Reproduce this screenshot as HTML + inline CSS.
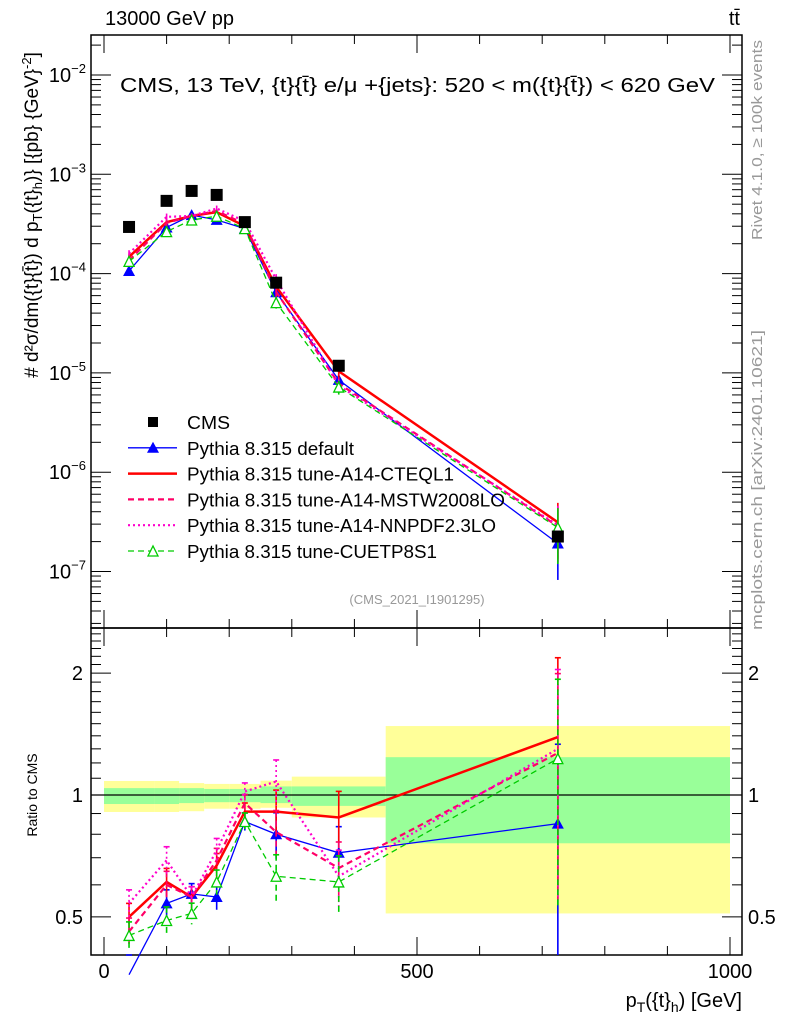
<!DOCTYPE html>
<html><head><meta charset="utf-8"><style>
body{margin:0;background:#fff;}
svg{display:block;font-family:"Liberation Sans",sans-serif;}
</style></head><body>
<svg id="c" width="786" height="1024" viewBox="0 0 786 1024">
<text x="105" y="25" font-size="20">13000 GeV pp</text>
<text x="740" y="25" font-size="20" text-anchor="end">tt̄</text>
<text x="120" y="92" font-size="20" textLength="595" lengthAdjust="spacingAndGlyphs">CMS, 13 TeV, {t}{t̄} e/μ +{jets}: 520 &lt; m({t}{t̄}) &lt; 620 GeV</text>
<text transform="translate(762,140) rotate(-90)" font-size="15" fill="#999" text-anchor="middle" textLength="200" lengthAdjust="spacingAndGlyphs">Rivet 4.1.0, ≥ 100k events</text>
<text transform="translate(762,480) rotate(-90)" font-size="15" fill="#999" text-anchor="middle" textLength="300" lengthAdjust="spacingAndGlyphs">mcplots.cern.ch [arXiv:2401.10621]</text>
<text x="417" y="604" font-size="13" fill="#999" text-anchor="middle">(CMS_2021_I1901295)</text>
<text transform="translate(38,215) rotate(-90)" font-size="19" text-anchor="middle"># d²σ/dm({t}{t̄}) d p<tspan font-size="13" dy="4">T</tspan><tspan dy="-4">({t}</tspan><tspan font-size="13" dy="4">h</tspan><tspan dy="-4">)} [{pb} {GeV}</tspan><tspan font-size="13" dy="-7">-2</tspan><tspan dy="7">]</tspan></text>
<text transform="translate(37,795) rotate(-90)" font-size="14" text-anchor="middle">Ratio to CMS</text>
<text x="742" y="1007" font-size="20" text-anchor="end">p<tspan font-size="14" dy="5">T</tspan><tspan dy="-5">({t}</tspan><tspan font-size="14" dy="5">h</tspan><tspan dy="-5">) [GeV]</tspan></text>
<g id="bands"></g><g id="grid"></g><g id="series"></g>
<g id="legend"></g>
</svg>
<script>
const binEdges=[0,80,120,160,200,250,300,450,1000];
const binCenters=[40,100,140,180,225,275,375,725];
const cmsValues=[2.95e-4,5.4e-4,6.8e-4,6.2e-4,3.3e-4,8.1e-5,1.18e-5,2.25e-7];
const yellowUp=[1.083,1.083,1.07,1.065,1.065,1.085,1.11,1.48];
const yellowDn=[0.908,0.908,0.912,0.925,0.925,0.93,0.88,0.51];
const greenUp=[1.04,1.04,1.04,1.035,1.035,1.05,1.05,1.24];
const greenDn=[0.95,0.95,0.955,0.96,0.96,0.955,0.94,0.76];
const ratioDefault=[0.36,0.54,0.57,0.56,0.86,0.80,0.72,0.85];
const ratioCTEQ=[0.50,0.61,0.56,0.67,0.91,0.91,0.88,1.39];
const ratioMSTW=[0.46,0.60,0.56,0.69,0.955,0.81,0.66,1.27];
const ratioNNPDF=[0.54,0.69,0.56,0.73,1.02,1.08,0.63,1.30];
const ratioCUETP=[0.45,0.49,0.51,0.61,0.86,0.63,0.61,1.23];
const relErr=[0.08,0.08,0.06,0.07,0.05,0.13,0.16,0.57];
const yTickExp=[-7,-6,-5,-4,-3,-2];
const rTicks=[0.5,1,2];
const xTicks=[0,500,1000];

const NS="http://www.w3.org/2000/svg";
const L=91,R=742,T=35,MB=628,RB=955;
const X=v=>104+v*0.626;
const Y=v=>75-(Math.log10(v)+2)*99.3;
const RY=v=>795-Math.log10(v)*405;
function mk(tag,attrs,parent){const e=document.createElementNS(NS,tag);for(const k in attrs)e.setAttribute(k,attrs[k]);document.getElementById(parent).appendChild(e);return e;}
function clampR(y){return Math.max(628,Math.min(RB,y));}

for(let i=0;i<binCenters.length;i++){
  const x0=X(binEdges[i]),x1=X(binEdges[i+1]);
  const yb=mk('rect',{x:x0,y:RY(yellowUp[i]),width:x1-x0,height:RY(yellowDn[i])-RY(yellowUp[i]),fill:'#ffff99'},'bands');
  
  
  const gb=mk('rect',{x:x0,y:RY(greenUp[i]),width:x1-x0,height:RY(greenDn[i])-RY(greenUp[i]),fill:'#99ff99'},'bands');
  
  
}
mk('line',{x1:L,x2:R,y1:RY(1),y2:RY(1),stroke:'#000','stroke-width':1.3},'grid');
for(const [t,b,n] of [[T,MB,'main-frame'],[MB,RB,'ratio-frame']]){
  const f=mk('rect',{x:L,y:t,width:R-L,height:b-t,fill:'none',stroke:'#000','stroke-width':1.5},'grid');
  
  
}
for(let e=-8;e<=-1;e++){for(let m=1;m<10;m++){const y=Y(m*Math.pow(10,e));if(y<T||y>MB)continue;const len=m==1?20:10;
 mk('line',{x1:L,x2:L+len,y1:y,y2:y,stroke:'#000'},'grid');mk('line',{x1:R,x2:R-len,y1:y,y2:y,stroke:'#000'},'grid');}}
yTickExp.forEach(e=>{const t=mk('text',{x:L-5,y:Y(Math.pow(10,e))+7,'font-size':20,'text-anchor':'end'},'grid');
 
 
 t.innerHTML='10<tspan font-size="13" dy="-9">'+(e<0?'−':'')+Math.abs(e)+'</tspan>';});
for(let v=0.4;v<=2.6;v+=0.1){const y=RY(v);if(y<MB||y>RB)continue;const maj=[0.5,1,2].some(q=>Math.abs(q-v)<1e-6);const len=maj?20:10;
 mk('line',{x1:L,x2:L+len,y1:y,y2:y,stroke:'#000'},'grid');mk('line',{x1:R,x2:R-len,y1:y,y2:y,stroke:'#000'},'grid');}
rTicks.forEach(v=>{const t=mk('text',{x:L-8,y:RY(v)+7,'font-size':20,'text-anchor':'end'},'grid');t.textContent=String(v);
 
 
 const t2=mk('text',{x:R+6,y:RY(v)+7,'font-size':20},'grid');t2.textContent=String(v);
 
 });
for(let v=0;v<=1000;v+=100){const x=X(v);const len=v%500==0?18:9;
 for(const [a,s] of [[T,1],[MB,-1],[MB,1],[RB,-1]]) mk('line',{x1:x,x2:x,y1:a,y2:a+s*len,stroke:'#000'},'grid');}
xTicks.forEach(v=>{const t=mk('text',{x:X(v),y:978,'font-size':20,'text-anchor':'middle'},'grid');t.textContent=String(v);
 
 });

const series=[
 {r:ratioDefault,c:'#0000ff',w:1.3,d:'',m:'tri',name:'default'},
 {r:ratioCTEQ,c:'#ff0000',w:2.5,d:'',m:'bar',name:'cteql1'},
 {r:ratioMSTW,c:'#ff0066',w:2.2,d:'6,4',m:'bar',name:'mstw'},
 {r:ratioNNPDF,c:'#ff00cc',w:2.2,d:'2,3',m:'bar',name:'nnpdf'},
 {r:ratioCUETP,c:'#00cc00',w:1.3,d:'6,4',m:'otri',name:'cuetp'}];
function marker(m,x,y,c,g,name){
 if(m=='tri'){const e=mk('polygon',{points:`${x-6},${y+5} ${x+6},${y+5} ${x},${y-6}`,fill:c},g);}
 else if(m=='otri'){const e=mk('polygon',{points:`${x-5},${y+5} ${x+5},${y+5} ${x},${y-5}`,fill:'#fff',stroke:c,'stroke-width':1.3},g);}
}
series.forEach(s=>{
 const top=s.r.map((r,i)=>r*cmsValues[i]);
 const p1=top.map((v,i)=>X(binCenters[i])+','+Y(v)).join(' ');
 const pl=mk('polyline',{points:p1,fill:'none',stroke:s.c,'stroke-width':s.w,'stroke-dasharray':s.d},'series');
 
 
 const p2=s.r.map((v,i)=>X(binCenters[i])+','+RY(v)).join(' ');
 const pr=mk('polyline',{points:p2,fill:'none',stroke:s.c,'stroke-width':s.w,'stroke-dasharray':s.d},'series');
 
 
 s.r.forEach((v,i)=>{const x=X(binCenters[i]);
  const up=v*(1+relErr[i]),dn=Math.max(v*(1-relErr[i]),0.01);
  mk('line',{x1:x,x2:x,y1:clampR(RY(up)),y2:clampR(RY(dn)),stroke:s.c,'stroke-width':1.6,'stroke-dasharray':s.d},'series');
  mk('line',{x1:x-3,x2:x+3,y1:clampR(RY(up)),y2:clampR(RY(up)),stroke:s.c,'stroke-width':1.6},'series');
  const tv=top[i];
  mk('line',{x1:x,x2:x,y1:Y(tv*(1+relErr[i])),y2:Y(Math.max(tv*(1-relErr[i]),1e-9)),stroke:s.c,'stroke-width':1.6},'series');
  if(RY(v)<RB) marker(s.m,x,RY(v),s.c,'series','ratio-marker-'+s.name);
  marker(s.m,x,Y(tv),s.c,'series','marker-'+s.name);
 });
});
cmsValues.forEach((v,i)=>{const e=mk('rect',{x:X(binCenters[i])-6,y:Y(v)-6,width:12,height:12,fill:'#000'},'series');
 
 });

const leg=[['CMS','#000','', 'sq',1,43],['Pythia 8.315 default','#0000ff','','tri',1.3,167],['Pythia 8.315 tune-A14-CTEQL1','#ff0000','','',2.5,267],
 ['Pythia 8.315 tune-A14-MSTW2008LO','#ff0066','6,4','',2.2,318],['Pythia 8.315 tune-A14-NNPDF2.3LO','#ff00cc','2,3','',2.2,309],['Pythia 8.315 tune-CUETP8S1','#00cc00','6,4','otri',1.3,250]];
leg.forEach((l,i)=>{const y=422+i*25.8;
 const g=mk('g',{},'legend');g.id='lg'+i;
 if(l[3]=='sq') mk('rect',{x:148,y:y-5,width:10,height:10,fill:'#000'},'lg'+i);
 else mk('line',{x1:128,x2:177,y1:y,y2:y,stroke:l[1],'stroke-width':l[4],'stroke-dasharray':l[2]},'lg'+i);
 if(l[3]=='tri'||l[3]=='otri') marker(l[3],153,y,l[1],'lg'+i,'legend-marker');
 const t=mk('text',{x:187,y:y+7,'font-size':18,textLength:l[5],lengthAdjust:'spacingAndGlyphs'},'lg'+i);t.textContent=l[0];});
</script>
</body></html>
